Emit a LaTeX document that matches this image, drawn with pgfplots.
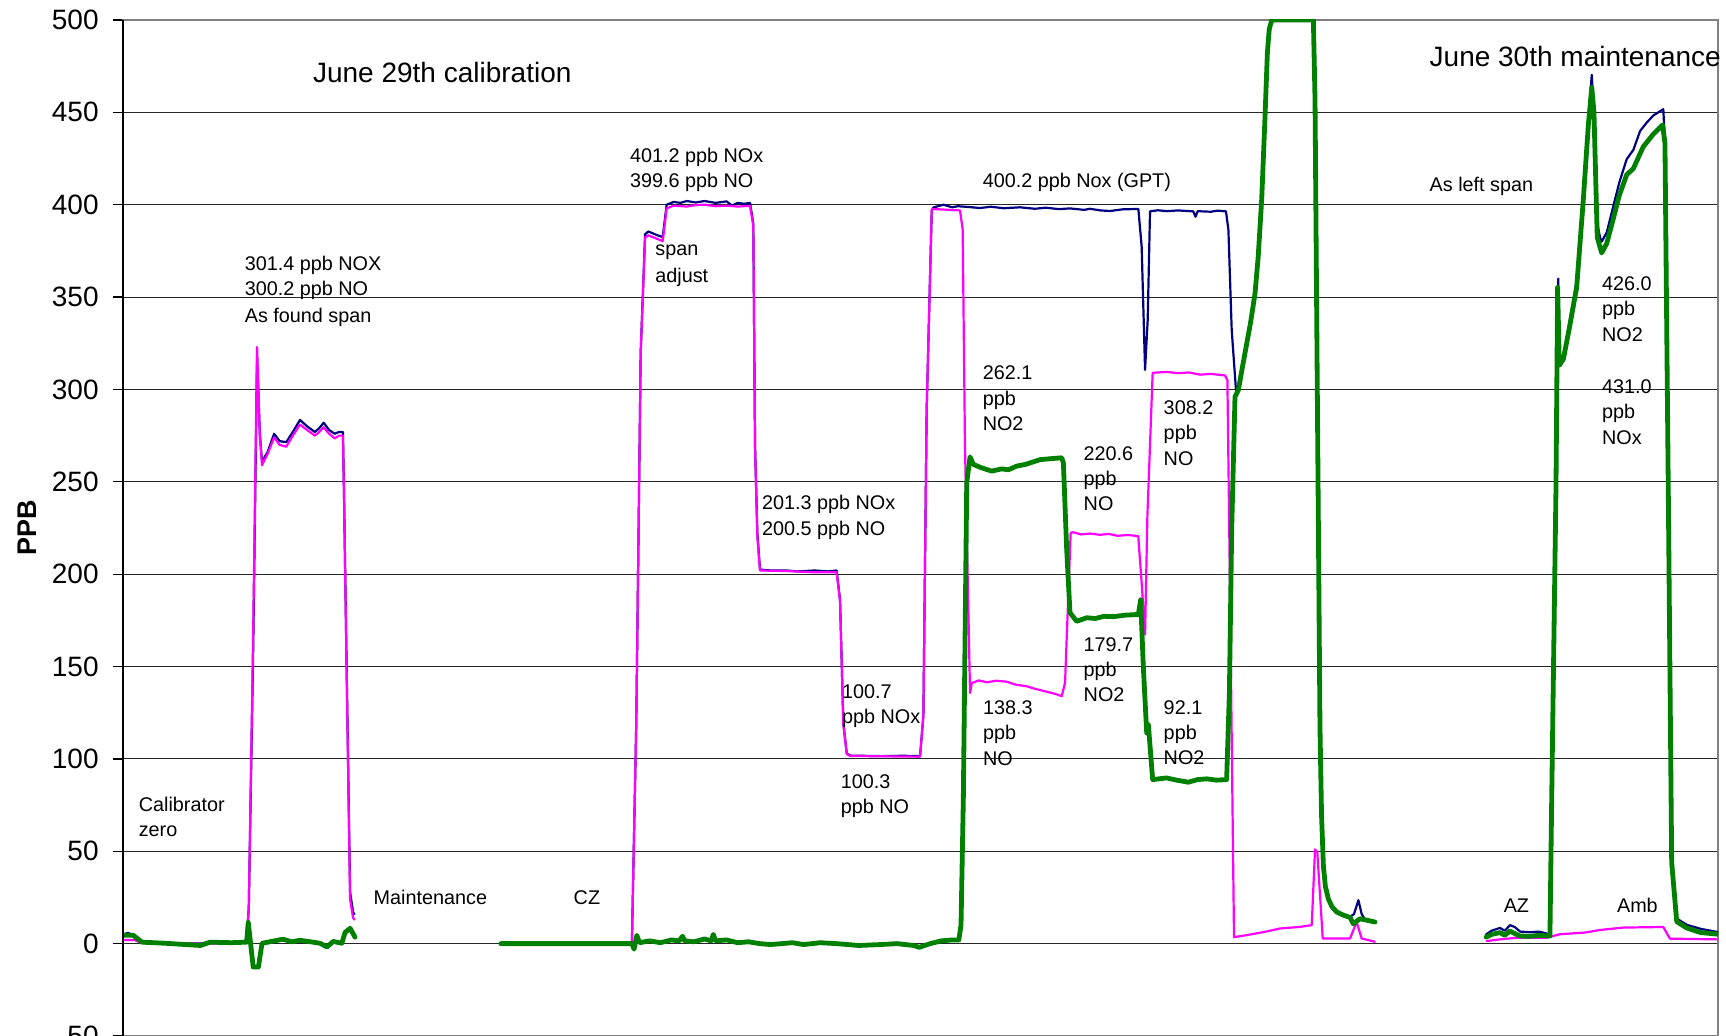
\documentclass[border=0pt]{standalone}
\usepackage{fontspec}
\setmainfont{Liberation Sans}
\usepackage{pgfplots}
\pgfplotsset{compat=1.18}
\definecolor{navyc}{RGB}{0,0,128}
\definecolor{magc}{RGB}{255,0,255}
\definecolor{grnc}{RGB}{0,128,0}
\newcommand{\ann}[3]{\node[anchor=base west, inner sep=0pt, font=\fontsize{9.9}{12}\selectfont] at (axis cs:#1,#2) {#3};}
\newcommand{\annL}[3]{\node[anchor=base west, inner sep=0pt, font=\fontsize{14}{16}\selectfont] at (axis cs:#1,#2) {#3};}
\begin{document}
\begin{tikzpicture}
\begin{axis}[name=ax, scale only axis, width=797.5pt, height=508pt,
  xmin=111.7, xmax=1560.7, ymin=-50, ymax=500,
  xtick=\empty, ytick distance=50, ytick pos=left,
  ymajorgrids, grid style={black!85, line width=0.5pt},
  axis line style={draw=gray, line width=1pt},
  tick align=outside, major tick length=5pt, ytick style={black, line width=0.6pt},
  /pgf/number format/assume math mode=true,
  yticklabel style={font=\fontsize{14}{16}\selectfont, inner sep=0pt, xshift=-7pt},
  ylabel={PPB},
  ylabel style={font=\fontsize{13.5}{16}\selectfont\bfseries, at={(axis description cs:-0.0602,0.5)}, anchor=center},
  unbounded coords=jump, clip mode=individual,
  every axis plot/.append style={line join=round, line cap=round}]

\addplot[navyc, line width=1.1pt] table {
112 5
116 5.8
120 5
124 2
128 1
135 0.5
150 0
170 0
190 0.2
205 1
215 0.5
224 1
226 20
230 160
233.5 318
236 276
238 261
243 266
249 276
254 272
260 271.5
266 277
272.5 283.5
279 280
286 277
290 279
294 282
299 278
304 276
308 277
311.5 277
312.5 243
314.3 172
318 28
320.7 17
322 16
nan nan
455 0
574 0
578 120
582 320
586 384
589 385.5
597 383.5
602 382.5
605.6 400
612 401.5
618 401
624 402
632 401.2
640 402
650 401
660 401.8
665 399.5
670 401
676 400.5
681.3 401
684.3 390
685.9 269
688 222
690.4 202.5
700 202
714.6 202
725 201.5
740 202
752 201.5
760 202
763.1 186
766.1 119
769.2 103
772.2 101.8
800 101.5
820 101.7
835.8 101.5
838.8 123.4
841.8 289
846.4 397
847.9 398.5
857 400
865 398.6
870 399.2
881.2 398.7
890 398.2
900 398.9
912 398.1
926.6 398.6
940 397.8
950 398.4
962 397.6
972 398
985 397.2
990 397.8
1000 396.9
1008.4 396.6
1020 397.5
1034.1 397.7
1037.1 377.4
1040.2 310.6
1042.6 337.7
1044.7 396.4
1052 397
1060 396.5
1070 396.9
1084 396.4
1086 393.5
1088 396.5
1100 396.2
1106 396.8
1113.7 396.4
1115.9 386.5
1118.9 332.3
1122.8 299.5
1125 300
1128 310
1132.5 324.7
1136 336
1140.1 352
1143 372
1146.2 403.4
1149 445
1151.3 482
1153 495
1155.3 500
1193.1 500
1194.6 457
1196 350
1198 200
1199.1 117
1200.5 70
1202.2 42
1204 31
1206.7 24.2
1210 20
1214.3 17.1
1220 15.5
1226.4 14.5
1230 16
1234 23.5
1237 16
1240 13
1249 12
nan nan
1350 5
1355 7
1362.6 8.5
1367 7
1371.7 10
1376 9
1381 6.5
1390 6.2
1398 6.5
1405 5.5
1408 4.5
1409.6 78
1413.5 247
1415 345
1415.6 360
1416.5 313
1420.2 317
1426.2 338
1432.3 358.7
1438.3 405
1442.9 446
1446 470.3
1448 450
1451 390
1453.5 382.3
1455 380
1459.6 385
1465.6 399.3
1471 412
1477.7 424.6
1483.8 429.7
1489.9 439.9
1496 444.5
1501.9 448.3
1511 451.7
1512.5 433
1515.5 247
1518.6 44
1523.2 13.6
1532.2 10.2
1545 8
1561 6.2
};

\addplot[magc, line width=1.1pt] table {
112 2
122 2
128 0.5
140 0
200 0
224 0.5
226 20
230 170
233.5 323
236 275
238 259
243 265
249 274
254 270
260 269
266 275
272.5 281
279 278
286 275
290 277
294 279.5
299 276
304 273.5
308 275
311.5 275
312.5 242
314.3 170
318 24
320.7 14
322 13
nan nan
455 0
574 0
578 120
582 320
586 382.4
589 383.4
597 381.5
602 380.3
605.6 398
612 399.5
624 399
632 399.8
640 400
650 399.2
660 399.5
670 399
681.3 399.4
684.3 388.6
685.9 268.4
688 220
690.4 202
714.6 201.7
740 201
760 201
763.1 185.5
766.1 119
769.2 102.7
772.2 101.6
835.8 101.2
838.8 123.4
841.8 289
846.4 397
847.3 397.7
872.1 396.9
874.5 386.5
876.6 269
881.2 135.7
882.7 141
889 142.5
896.3 141.5
905 142.3
914.5 141.8
922 140.3
932.7 139.3
940 138
950 136.5
958 135.3
964.5 134
967.5 141.2
972.6 222.4
975 222.7
982 221.5
990 222
999.3 221.3
1007 221.8
1015 220.8
1025 221.2
1034 220.6
1037.1 195.3
1040.2 167.3
1042.3 231.4
1047.1 309
1060 309.5
1070 308.8
1080 309.2
1090.1 308
1100 308.4
1112.8 307.6
1115 305
1117.4 188.8
1121 3.5
1132.5 4.6
1150 6.5
1162.8 8.2
1180 9
1191.6 10
1194.6 51
1196.7 49.3
1201.6 2.8
1226.4 2.8
1232.4 11.7
1237 2.8
1249 1
nan nan
1350.6 1.4
1362.6 2.3
1377.8 3.2
1405 3.2
1417.2 5.1
1440 6
1453.5 7.4
1474.7 8.7
1511 9
1517 2.7
1561 2.3
};

\addplot[grnc, line width=2.4pt] table {
112 4.5
121 4.5
129 0.8
150 0.2
182 -1
191 0.8
210 0.5
224 0.8
225.5 11.5
230 -12.7
234.7 -12.7
238 0.2
245 1
257 2.4
265 1
272.5 1.8
282 1
290.7 0.2
297 -1.8
302.7 1.2
310.5 0.2
313.4 6
318 8.3
322.5 3.5
nan nan
455 0
574 0
576 -3
578.5 4.5
581 0.5
590 1.5
600 0.5
610 2
617 1.5
620 4
622 1.5
630 1
640 2.5
646 1.5
648 5
650 1.5
660 2
670 0.5
680 1
690 0
700 -0.5
720 0.5
730 -0.5
745 0.5
760 0
780 -1
800 -0.5
815 0
830 -1
835 -2
845 0
855 1.5
865 2
871 2
873 10
875.1 78
878.2 249.5
881.2 263.5
884.2 259.4
892 257.5
900.9 255.8
910 257
916 256.5
923.6 258.5
932 259.5
944.8 262
954 262.5
964.5 263
966 260.2
969 213.4
972 179.1
978.1 174.5
987.2 176.4
995 176
1003 177.2
1011.4 177
1022 177.8
1034.1 178.2
1036.2 186.1
1038.6 150.1
1041.7 114
1043.2 118.5
1047.1 88.8
1059.8 89.7
1068 88.6
1079.5 87.4
1088 88.8
1096.2 89.2
1105 88.5
1114.3 88.8
1116.8 135.7
1118.9 224.6
1121.9 296
1125 299.7
1128 310
1132.5 324.7
1136 336
1140.1 352
1143 372
1146.2 403.4
1149 445
1151.3 482
1153 495
1155.3 500
1193.1 500
1194.6 457
1196 350
1198 200
1199.1 117
1200.5 70
1202.2 42
1204 31
1206.7 24.2
1210 20
1214.3 17.1
1220 15.5
1226.4 14.2
1229.4 10.7
1235.5 13.5
1249.1 11.7
nan nan
1350 3.5
1355 5
1362.6 6
1367 4.5
1371.7 6.8
1376 5.5
1380.8 4.1
1390 4
1398 4.5
1408 4.1
1409.6 77.9
1413.5 247
1415 355.3
1416.5 313
1420.2 316.4
1426.2 335
1432.3 355.3
1438.3 402.6
1442.9 443.2
1446 463.5
1448 450
1451 382.3
1455 373.9
1459.6 379
1465.6 392.5
1471 405
1477.7 416.2
1483.8 419.6
1492.8 431.4
1501.9 438.2
1510.4 443.2
1512.5 433.1
1515.5 247
1518.6 44
1523.2 11.9
1532.2 8.5
1545 6
1561 5.1
};

\annL{284}{466}{June 29th calibration}
\coordinate (j30) at (axis cs:1298.4,475);
\ann{222}{364.5}{301.4 ppb NOX}
\ann{222}{350.8}{300.2 ppb NO}
\ann{222}{336.5}{As found span}
\ann{125.7}{71.7}{Calibrator}
\ann{125.7}{58}{zero}
\ann{339.1}{21.3}{Maintenance}
\ann{520.8}{21.3}{CZ}
\ann{572}{422.9}{401.2 ppb NOx}
\ann{572}{409.2}{399.6 ppb NO}
\ann{595}{372.3}{span}
\ann{595}{358}{adjust}
\ann{691.9}{234.9}{201.3 ppb NOx}
\ann{691.9}{220.9}{200.5 ppb NO}
\ann{764.6}{132.7}{100.7}
\ann{764.6}{119}{ppb NOx}
\ann{763.5}{84}{100.3}
\ann{763.5}{70.2}{ppb NO}
\ann{892.4}{409.2}{400.2 ppb Nox (GPT)}
\ann{892.4}{305.2}{262.1}
\ann{892.4}{291.5}{ppb}
\ann{892.4}{277.8}{NO2}
\ann{892.7}{124}{138.3}
\ann{892.7}{110.3}{ppb}
\ann{892.7}{96.6}{NO}
\ann{984.1}{261.7}{220.6}
\ann{984.1}{248}{ppb}
\ann{984.1}{234.3}{NO}
\ann{984.1}{158.3}{179.7}
\ann{984.1}{144.6}{ppb}
\ann{984.1}{130.9}{NO2}
\ann{1056.8}{286.5}{308.2}
\ann{1056.8}{272.8}{ppb}
\ann{1056.8}{259.1}{NO}
\ann{1056.8}{124.2}{92.1}
\ann{1056.8}{110.5}{ppb}
\ann{1056.8}{96.8}{NO2}
\ann{1298.4}{406.9}{As left span}
\ann{1455}{353.6}{426.0}
\ann{1455}{339.9}{ppb}
\ann{1455}{326.2}{NO2}
\ann{1455}{297.8}{431.0}
\ann{1455}{284.1}{ppb}
\ann{1455}{270.4}{NOx}
\ann{1365.7}{16.8}{AZ}
\ann{1468.6}{16.8}{Amb}
\end{axis}
\draw[black, line width=0.8pt] (ax.south west) -- (ax.north west);
\node[anchor=base west, inner sep=0pt, font=\fontsize{14}{16}\selectfont] at (j30) {June 30th maintenance};
\pgfresetboundingbox
\useasboundingbox ([xshift=-61.5pt,yshift=10pt]ax.north west) rectangle ([xshift=4pt]ax.south east);
\end{tikzpicture}
\end{document}
